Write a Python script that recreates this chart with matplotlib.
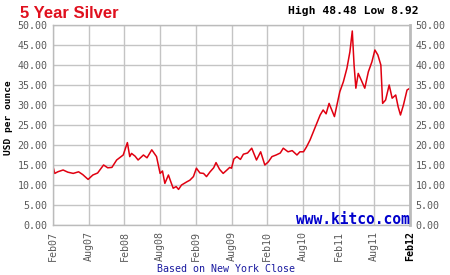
import matplotlib
matplotlib.use("Agg")
import matplotlib.pyplot as plt

# months since Feb 2007
months = [0.0, 0.3, 0.8, 1.7, 2.5, 3.4, 4.3, 5.0, 5.9, 6.7, 7.5, 8.5, 9.2, 9.9, 10.7, 11.8,
          12.5, 12.9, 13.2, 13.8, 14.3, 15.2, 15.8, 16.6, 17.4, 18.0, 18.4, 18.8, 19.4, 19.8,
          20.2, 20.7, 21.1, 21.6, 22.5, 23.0, 23.6, 24.1, 24.7, 25.3, 25.8, 26.4, 27.0, 27.4,
          28.0, 28.6, 29.2, 29.7, 30.0, 30.4, 30.9, 31.5, 32.0, 32.7, 33.4, 34.2, 34.9, 35.6,
          36.2, 36.8, 37.5, 38.2, 38.7, 39.5, 40.2, 41.0, 41.5, 42.1, 42.6, 43.2, 44.0, 44.9,
          45.4, 45.9, 46.4, 47.3, 47.9, 48.2, 48.8, 49.4, 49.9, 50.3, 50.6, 50.9, 51.3, 51.8,
          52.4, 53.0, 53.6, 54.1, 54.6, 55.1, 55.4, 55.9, 56.5, 57.0, 57.6, 58.0, 58.4, 58.9,
          59.5, 60.0]
prices = [14.6, 12.9, 13.3, 13.75, 13.2, 12.9, 13.3, 12.6, 11.4, 12.5, 13.0, 15.0, 14.3, 14.4,
          16.25, 17.5, 20.6, 17.1, 17.9, 17.2, 16.25, 17.5, 16.8, 18.8, 17.1, 12.9, 13.5, 10.4,
          12.5, 10.8, 9.2, 9.6, 8.9, 10.0, 10.8, 11.2, 12.1, 14.2, 13.0, 12.9, 12.1, 13.3, 14.3,
          15.6, 13.9, 12.9, 13.7, 14.4, 14.2, 16.5, 17.1, 16.4, 17.7, 18.0, 19.2, 16.25, 18.3,
          15.0, 15.8, 17.1, 17.5, 18.0, 19.2, 18.3, 18.6, 17.5, 18.3, 18.3, 19.5, 21.25, 24.2,
          27.5, 28.75, 27.8, 30.4, 27.1, 31.25, 33.3, 35.8, 39.2, 43.3, 48.5, 40.0, 34.2, 37.9,
          36.25, 34.2, 38.3, 40.8, 43.75, 42.5, 40.0, 30.4, 31.25, 35.0, 31.7, 32.5, 29.6, 27.5,
          30.0, 33.75, 34.2]

x_ticks = [0, 6, 12, 18, 24, 30, 36, 42, 48, 54, 60]
x_labels = ["Feb07", "Aug07", "Feb08", "Aug08", "Feb09", "Aug09", "Feb10", "Aug10",
            "Feb11", "Aug11", "Feb12"]
y_ticks = [0, 5, 10, 15, 20, 25, 30, 35, 40, 45, 50]
y_labels = ["%.2f" % v for v in y_ticks]

mono = "DejaVu Sans Mono"
fig = plt.figure(figsize=(4.5, 2.75), dpi=100)
ax = fig.add_axes([53/450, 1-225/275, 357/450, 200/275])
ax.plot(months, prices, color="#e00010", lw=1.1)
ax.set_xlim(0, 60)
ax.set_ylim(0, 50)
ax.set_xticks(x_ticks)
ax.set_yticks(y_ticks)
ax.set_yticklabels(y_labels, family=mono, fontsize=7.2, color="#5a5a5a")
ax.tick_params(axis="y", length=0, pad=4, labelright=True, right=False)
ax.set_xticklabels(x_labels, rotation=90, family=mono, fontsize=7.2, color="#5a5a5a")
ax.tick_params(axis="x", length=0, pad=4)
xl = ax.get_xticklabels()[-1]
xl.set_fontweight("bold")
xl.set_color("black")
ax.grid(True, color="#c4c4c4", lw=1.0)
ax.set_axisbelow(True)
for s in ax.spines.values():
    s.set_color("#bbbbbb")
    s.set_linewidth(1.0)
ax.spines["right"].set_linewidth(2.0)

fig.text(20/450, 1-13/275, "5 Year Silver", color="#e0101e", fontweight="bold",
         family="Liberation Sans", fontsize=12, va="center", ha="left")
fig.text(419/450, 1-11/275, "High 48.48 Low 8.92", color="black", fontweight="bold",
         family=mono, fontsize=8.2, va="center", ha="right")
fig.text(9/450, 1-118/275, "USD per ounce", rotation=90, color="black", fontweight="bold",
         family=mono, fontsize=6.8, va="center", ha="center")
fig.text(410/450, 1-219/275, "www.kitco.com", color="#0000cc", fontweight="bold",
         family=mono, fontsize=10.5, va="center", ha="right")
fig.text(226/450, 1-269/275, "Based on New York Close", color="#1a1aa0",
         family=mono, fontsize=7.2, va="center", ha="center")

fig.savefig("out.png", dpi=100, facecolor="white")
